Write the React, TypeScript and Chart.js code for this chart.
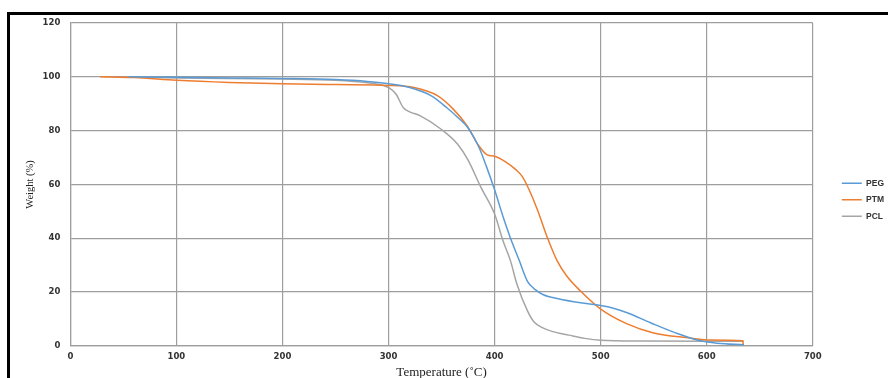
import React, { useEffect, useRef } from "react";
import { Chart, registerables } from "chart.js";

Chart.register(...registerables);

// ---- data ----
const seriesNames = ["PEG", "PTM", "PCL"];
const xTicks = [0, 100, 200, 300, 400, 500, 600, 700];
const yTicks = [0, 20, 40, 60, 80, 100, 120];

const pegTemps = [55, 100, 150, 200, 250, 280, 300, 320, 340, 355, 365, 375, 385, 392, 400, 408, 415, 423, 431, 438, 446, 460, 481, 500, 512, 525, 547, 573, 594, 610, 635];
const pegWeights = [100, 99.8, 99.6, 99.4, 99, 98.3, 97.4, 96, 93, 88.5, 85, 81, 74, 67, 58, 48, 40, 32, 24, 21, 19, 17.5, 16, 15, 14, 12.3, 8.6, 4.5, 1.9, 1, 0.4];

const ptmTemps = [28, 60, 100, 150, 200, 250, 300, 324, 346, 361, 374, 384, 393, 400, 410, 420, 426, 432, 440, 450, 459, 468, 481, 500, 525, 550, 582, 601, 634, 634.5];
const ptmWeights = [100, 99.7, 98.7, 97.9, 97.4, 97.1, 96.8, 96, 93, 88, 81.8, 75, 71, 70.5, 68.5, 65.5, 63, 58.5, 51, 40, 31.6, 26, 20.4, 13.7, 8.2, 4.8, 3, 2.2, 1.9, 0.3];

const pclTemps = [55, 100, 200, 250, 280, 295, 300, 307, 314, 320, 330, 349, 365, 375, 387, 400, 408, 415, 421, 431, 437, 445, 455, 470, 485, 500, 540, 635];
const pclWeights = [100, 99.6, 99.2, 98.7, 97.8, 96.8, 96, 93.6, 88.5, 87, 85.5, 80.7, 75, 69, 59, 49, 39, 31.6, 23, 13, 9, 6.8, 5.3, 4, 2.8, 2.1, 1.8, 1.7];

const colors = ["#5b9bd5", "#ed7d31", "#a5a5a5"];

const toPoints = (xs: number[], ys: number[]) => xs.map((x, i) => ({ x, y: ys[i] }));

const legendShift = {
  id: "legendShift",
  afterLayout(chart: any) {
    const l = chart.legend;
    if (!l) return;
    l.left += 21;
    l.right += 21;
    l.top += 148;
    l.bottom += 148;
  },
};

export default function App() {
  const ref = useRef<HTMLCanvasElement | null>(null);
  useEffect(() => {
    if (!ref.current) return;
    const tickFont = { family: "'DejaVu Sans', sans-serif", size: 8.5, weight: "bold" as const, lineHeight: 1 };
    const chart = new Chart(ref.current, {
      type: "line",
      data: {
        datasets: [
          { label: seriesNames[0], data: toPoints(pegTemps, pegWeights), borderColor: colors[0], backgroundColor: colors[0] },
          { label: seriesNames[1], data: toPoints(ptmTemps, ptmWeights), borderColor: colors[1], backgroundColor: colors[1] },
          { label: seriesNames[2], data: toPoints(pclTemps, pclWeights), borderColor: colors[2], backgroundColor: colors[2] },
        ].map((d) => ({ ...d, borderWidth: 1.5, pointRadius: 0, cubicInterpolationMode: "monotone" as const, fill: false })),
      },
      options: {
        responsive: false,
        animation: false,
        layout: { padding: { left: 20, top: 23, right: 15, bottom: 0 } },
        plugins: {
          tooltip: { enabled: false },
          legend: {
            position: "right",
            align: "start",
            labels: {
              usePointStyle: true,
              pointStyle: "line",
              pointStyleWidth: 20,
              boxHeight: 8,
              padding: 8,
              color: "#333",
              font: { family: "'Liberation Sans Narrow', 'Liberation Sans', sans-serif", size: 8.5, weight: "bold" },
            },
          },
        },
        scales: {
          x: {
            type: "linear",
            min: 0,
            max: 700,
            afterBuildTicks: (s: any) => { s.ticks = xTicks.map((v) => ({ value: v })); },
            grid: { color: "#9e9e9e", lineWidth: 1.2, drawTicks: false },
            border: { color: "#9e9e9e", width: 1.2 },
            ticks: { padding: 7, color: "#333", font: tickFont, maxRotation: 0 },
            title: {
              display: true,
              text: "Temperature (˚C)",
              color: "#222",
              font: { family: "'Liberation Serif', 'DejaVu Serif', serif", size: 13 },
              padding: { top: -4, bottom: -2 },
            },
          },
          y: {
            type: "linear",
            min: 0,
            max: 120,
            afterBuildTicks: (s: any) => { s.ticks = yTicks.map((v) => ({ value: v })); },
            grid: { color: "#9e9e9e", lineWidth: 1.2, drawTicks: false },
            border: { color: "#9e9e9e", width: 1.2 },
            ticks: { padding: 10, color: "#333", font: tickFont },
            title: {
              display: true,
              text: "Weight (%)",
              color: "#222",
              font: { family: "'Liberation Serif', 'DejaVu Serif', serif", size: 10.5 },
              padding: { top: 4, bottom: -4 },
            },
          },
        },
      },
      plugins: [legendShift],
    });
    return () => chart.destroy();
  }, []);

  return (
    <div style={{ position: "fixed", left: 0, top: 0, width: 888, height: 378, overflow: "hidden", background: "#fff" }}>
      <div style={{ position: "absolute", left: 7, top: 12, width: 900, height: 400, borderTop: "3px solid #000", borderLeft: "3px solid #000" }} />
      <canvas ref={ref} width={888} height={378} style={{ position: "absolute", left: 0, top: 0, width: 888, height: 378 }} />
    </div>
  );
}
